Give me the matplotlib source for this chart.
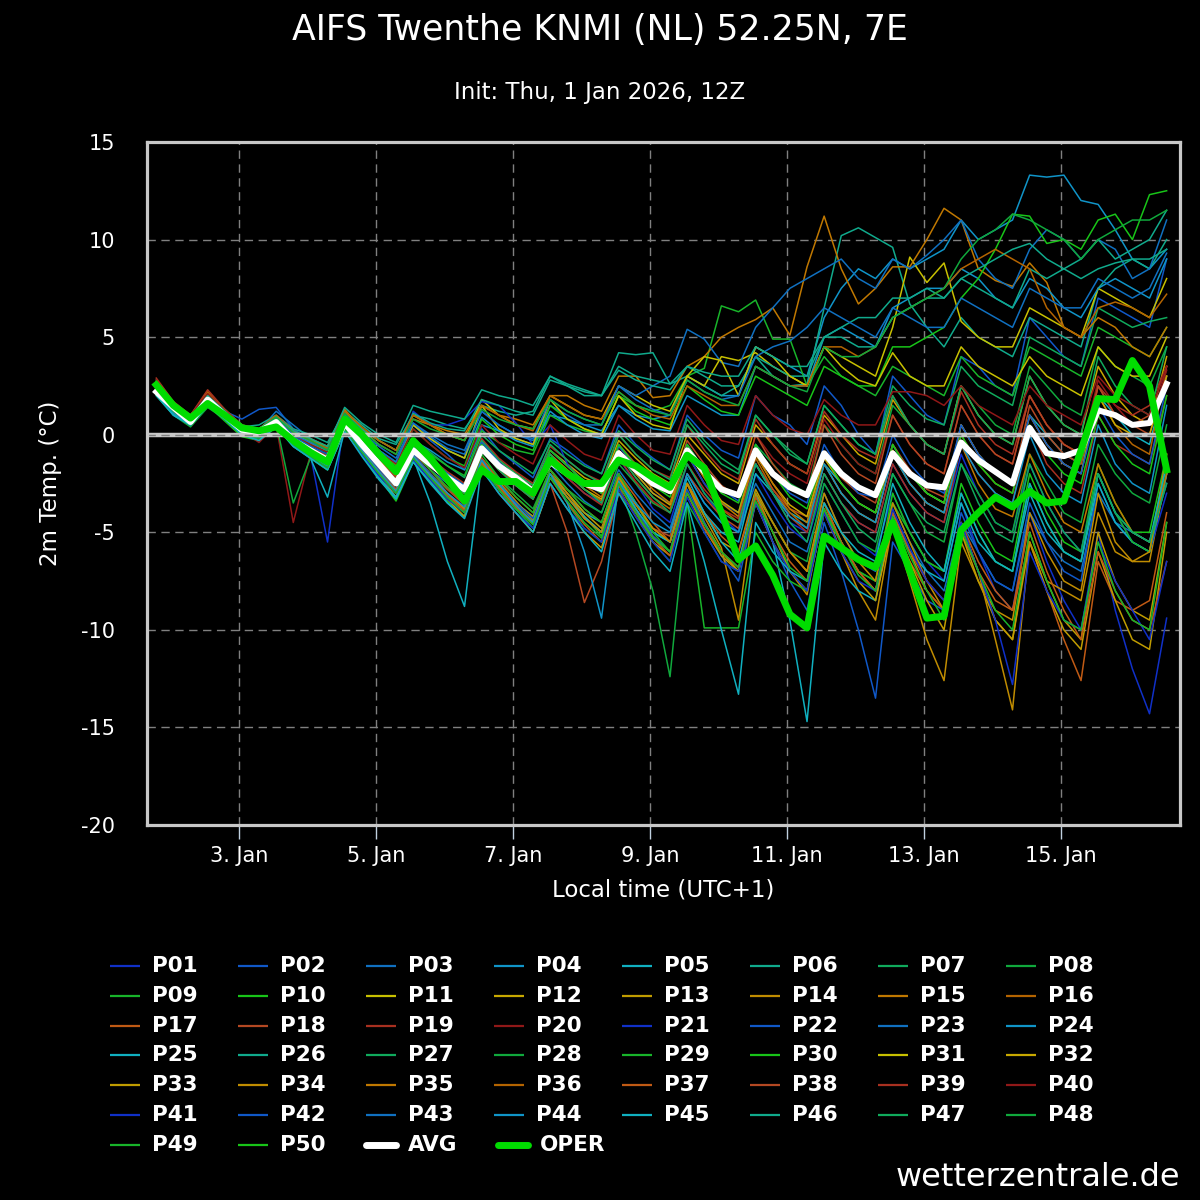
import matplotlib
matplotlib.use("Agg")
import matplotlib.pyplot as plt
import matplotlib.dates as mdates
from matplotlib.lines import Line2D
import pandas as pd

plt.rcParams["axes.unicode_minus"] = False

title = "AIFS Twenthe KNMI (NL) 52.25N, 7E"
subtitle = "Init: Thu, 1 Jan 2026, 12Z"
xlabel = "Local time (UTC+1)"
ylabel = "2m Temp. (°C)"
credit = "wetterzentrale.de"

# 6-hourly steps in local time (UTC+1), +6h .. +360h after init
times = pd.date_range("2026-01-01 19:00", periods=60, freq="6h")
tick_days = pd.date_range("2026-01-03", "2026-01-15", freq="2D")

avg = [2.2, 1.4, 0.65, 1.8, 1.0, 0.25, 0.15, 0.65, -0.3, -0.8, -1.3, 0.6,
       -0.5, -1.5, -2.5, -0.8, -1.5, -2.2, -2.8, -0.7, -1.6, -2.2, -2.9, -1.4,
       -2.0, -2.5, -2.8, -0.95, -1.8, -2.5, -2.9, -0.8, -1.9, -2.8, -3.1, -0.8,
       -2.0, -2.7, -3.1, -0.95, -2.0, -2.7, -3.1, -0.95, -2.0, -2.6, -2.7, -0.4,
       -1.3, -1.9, -2.5, 0.35, -0.95, -1.1, -0.8, 1.25, 1.0, 0.5, 0.6, 2.6]

oper = [2.55, 1.5, 0.85, 1.6, 1.0, 0.35, 0.2, 0.4, -0.3, -0.9, -1.4, 0.8,
        0.0, -1.0, -1.9, -0.3, -1.2, -2.3, -3.4, -1.8, -2.4, -2.4, -3.0, -1.3,
        -2.0, -2.5, -2.5, -1.3, -1.6, -2.2, -2.7, -1.05, -1.7, -4.0, -6.4, -5.7,
        -7.2, -9.2, -9.9, -5.2, -5.8, -6.4, -6.8, -4.5, -7.0, -9.4, -9.3, -4.9,
        -4.0, -3.2, -3.7, -2.9, -3.5, -3.4, -0.8, 1.85, 1.8, 3.8, 2.5, -1.8]

p01 = [2.4, 1.4, 0.8, 1.9, 1.1, 0.2, 0.0, 0.8, -0.2, -0.6, -1.2, 0.8,
       -0.4, -1.3, -2.2, -0.5, -1.2, -2.0, -2.6, -0.3, -1.4, -2.3, -3.1, -1.0,
       -2.2, -3.0, -3.5, -1.2, -2.5, -3.8, -4.5, -1.5, -3.0, -4.2, -5.0, -2.0,
       -3.5, -4.8, -5.5, -2.5, -4.0, -5.5, -6.2, -3.0, -5.0, -6.5, -7.5, -3.5,
       -6.0, -8.0, -9.0, -4.0, -6.5, -8.5, -10.0, -5.0, -9.0, -12.0, -14.3, -9.4]
p02 = [2.6, 1.5, 0.9, 2.0, 1.2, 0.8, 1.3, 1.4, 0.3, -0.3, -0.8, 1.0,
       0.2, -0.8, -1.5, 0.5, -0.3, -1.0, -1.8, 0.3, -0.8, -1.5, -2.2, -0.2,
       -0.8, -1.5, -2.0, 0.5, -0.5, -1.2, -1.8, 1.0, 0.0, -0.8, -1.2, 2.0,
       1.0, 0.5, -0.5, 2.5, 1.5, 0.0, -1.0, 3.0, 2.0, 1.0, 0.5, 4.0,
       3.5, 2.5, 2.0, 6.0, 5.0, 4.0, 3.5, 7.0, 6.5, 6.0, 5.5, 9.0]
p03 = [2.3, 1.2, 0.6, 1.7, 0.9, 0.1, 0.2, 1.2, 0.5, -0.2, -0.8, 0.9,
       -0.3, -1.5, -2.3, -0.8, -1.8, -2.5, -3.0, -0.6, -1.8, -2.6, -3.2, -1.5,
       -2.5, -3.4, -4.0, -1.8, -3.0, -4.0, -4.8, -2.0, -3.5, -4.5, -5.0, -2.5,
       -4.0, -5.5, -6.0, -3.0, -5.0, -6.5, -7.0, -3.5, -5.5, -7.0, -8.0, -4.5,
       -6.0, -7.5, -8.0, -4.0, -5.5, -6.5, -7.0, -3.0, -4.5, -5.0, -5.5, -2.5]
p04 = [2.5, 1.3, 0.7, 1.8, 1.0, 0.3, 0.2, 0.7, -0.2, -0.7, -1.2, 0.5,
       -0.4, -1.2, -2.0, -0.3, -0.8, -1.4, -1.8, 0.5, 0.2, -0.2, -0.5, 1.0,
       0.8, 0.5, 0.2, 1.5, 1.0, 0.8, 1.0, 3.0, 2.5, 2.0, 2.0, 4.5,
       4.0, 3.5, 3.0, 6.0, 7.5, 8.5, 8.0, 9.0, 8.5, 9.0, 9.5, 11.0,
       10.0, 10.5, 11.0, 13.3, 13.2, 13.3, 12.0, 11.8, 10.5, 9.0, 8.5, 9.5]
p05 = [2.2, 1.1, 0.5, 1.6, 0.8, 0.0, -0.2, 0.5, -0.5, -1.2, -1.8, 0.2,
       -1.0, -2.2, -3.2, -1.2, -3.5, -6.5, -8.8, -1.5, -2.5, -3.5, -4.2, -2.0,
       -3.0, -4.0, -4.5, -2.0, -3.5, -5.0, -5.5, -2.5, -4.0, -5.0, -5.5, -2.0,
       -3.0, -4.0, -4.5, -1.5, -2.5, -3.5, -4.0, -0.5, -2.0, -3.0, -3.5, 0.5,
       -1.0, -2.0, -2.5, 1.0, 0.0, -1.0, -1.5, 2.0, 1.0, 0.0, -0.5, 3.0]
p06 = [2.4, 1.2, 0.6, 1.7, 1.0, 0.4, 0.5, 1.0, 0.3, 0.0, -0.4, 1.2,
       0.5, -0.2, -0.5, 1.0, 0.8, 0.5, 0.3, 1.5, 1.2, 1.0, 1.2, 3.0,
       2.5, 2.0, 2.0, 4.2, 4.1, 4.2, 2.6, 3.0, 2.5, 2.0, 2.5, 4.0,
       3.0, 2.5, 2.6, 6.5, 10.2, 10.6, 10.1, 9.6, 6.7, 5.5, 4.5, 6.0,
       5.0, 4.5, 4.0, 6.0, 5.5, 5.0, 4.5, 7.5, 8.5, 9.0, 8.5, 10.0]
p07 = [2.8, 1.6, 0.9, 2.1, 1.3, 0.5, 0.3, 0.8, 0.1, -0.4, -0.9, 1.0,
       -0.2, -1.0, -1.8, -0.2, -0.9, -1.6, -2.2, 0.0, -0.8, -1.4, -2.0, -0.3,
       -1.0, -1.6, -2.0, 0.2, -0.6, -1.3, -1.8, 0.8, -0.3, -1.2, -1.8, 1.0,
       0.0, -0.8, -1.5, 1.5, 0.5, -0.5, -1.0, 2.5, 1.5, 0.8, 0.5, 3.5,
       2.5, 2.0, 1.5, 5.0, 4.5, 4.0, 3.5, 6.5, 6.0, 5.5, 5.8, 6.0]
p08 = [2.0, 1.0, 0.4, 1.4, 0.8, 0.1, -0.1, 0.6, -0.5, -1.0, -1.5, 0.4,
       -0.8, -1.8, -2.8, -1.0, -2.0, -2.8, -3.5, -1.2, -2.2, -3.0, -3.8, -1.8,
       -2.8, -3.5, -4.0, -1.5, -2.5, -3.5, -4.0, -1.0, -2.5, -3.5, -4.0, -0.5,
       -1.5, -2.5, -3.0, 0.5, -0.5, -1.5, -2.0, 1.5, 0.5, -0.5, -1.0, 2.5,
       1.5, 0.5, 0.0, 3.5, 2.5, 1.5, 1.0, 4.5, 3.5, 3.0, 2.5, 4.5]
p09 = [2.6, 1.4, 0.7, 1.9, 1.1, 0.3, 0.2, 0.9, 0.0, -0.6, -1.1, 0.7,
       -0.2, -1.2, -2.0, -0.4, -1.0, -1.6, -2.1, 0.2, -0.4, -0.8, -1.0, 1.0,
       0.5, 0.2, 0.0, 2.0, 1.5, 1.2, 1.5, 3.0, 3.4, 6.6, 6.3, 6.9,
       4.9, 4.9, 2.5, 4.0, 3.0, 2.5, 2.0, 3.5, 3.0, 2.5, 2.0, 4.0,
       3.0, 2.5, 2.0, 4.5, 4.0, 3.5, 3.0, 5.5, 5.0, 4.5, 4.0, 5.5]
p10 = [2.1, 1.1, 0.5, 1.5, 0.7, -0.1, -0.3, 0.4, -0.6, -1.2, -1.8, 0.2,
       -1.0, -2.2, -3.4, -1.4, -2.4, -3.4, -4.2, -1.5, -2.8, -3.8, -4.8, -2.2,
       -3.2, -4.2, -5.2, -2.2, -4.0, -5.5, -6.5, -2.5, -4.5, -6.0, -7.0, -3.0,
       -5.0, -7.0, -8.0, -3.5, -5.5, -7.0, -7.5, -3.0, -5.0, -6.5, -7.0, -2.5,
       -4.5, -6.0, -6.5, -2.0, -4.0, -5.5, -6.0, -1.5, -3.5, -5.0, -5.0, -1.0]
p11 = [2.3, 1.3, 0.7, 1.8, 1.0, 0.4, 0.3, 0.9, 0.1, -0.3, -0.6, 1.2,
       0.3, -0.3, -0.8, 1.0, 0.5, 0.0, -0.3, 1.8, 1.0, 0.5, 0.3, 2.0,
       1.5, 1.0, 0.8, 2.5, 2.0, 1.5, 1.2, 3.0, 2.5, 4.0, 3.8, 4.2,
       3.5, 3.0, 2.5, 4.5, 4.0, 3.5, 3.0, 5.5, 9.1, 7.8, 8.8, 5.8,
       5.0, 4.5, 4.5, 6.5, 6.0, 5.5, 5.0, 7.5, 7.0, 6.5, 6.0, 8.0]
p12 = [2.5, 1.5, 0.8, 2.0, 1.1, 0.3, 0.1, 0.6, -0.3, -0.8, -1.3, 0.6,
       -0.5, -1.4, -2.2, -0.5, -1.3, -2.0, -2.6, -0.4, -1.3, -2.0, -2.6, -0.8,
       -1.5, -2.2, -2.6, -0.3, -1.2, -2.0, -2.5, 0.0, -1.0, -2.0, -2.5, 0.5,
       -0.5, -1.5, -2.0, 1.0, 0.0, -1.0, -1.5, 1.8, 0.5, -0.5, -1.0, 2.5,
       1.0, 0.0, -0.5, 3.0, 1.5, 0.5, 0.0, 3.5, 2.0, 1.0, 0.5, 4.0]
p13 = [2.2, 1.2, 0.6, 1.6, 0.9, 0.1, 0.0, 0.6, -0.4, -1.0, -1.6, 0.4,
       -0.8, -2.0, -3.2, -1.2, -2.2, -3.2, -4.0, -1.5, -2.6, -3.5, -4.2, -2.0,
       -3.0, -4.0, -4.8, -2.2, -3.5, -4.8, -5.5, -2.5, -4.0, -5.5, -6.0, -2.8,
       -4.5, -6.0, -7.0, -3.5, -5.5, -7.0, -8.0, -4.0, -6.0, -8.0, -9.0, -4.5,
       -7.0, -9.5, -10.5, -5.0, -7.5, -9.5, -10.5, -5.0, -7.5, -9.0, -9.5, -4.5]
p14 = [2.7, 1.5, 0.8, 2.0, 1.1, 0.3, 0.1, 0.7, -0.3, -0.9, -1.5, 0.5,
       -0.7, -1.8, -2.9, -1.0, -2.0, -3.0, -3.8, -1.2, -2.4, -3.4, -4.4, -1.8,
       -3.0, -4.2, -5.0, -2.0, -3.8, -5.2, -6.0, -2.5, -4.5, -6.0, -7.0, -3.0,
       -5.0, -7.0, -8.2, -3.8, -6.0, -8.0, -9.5, -4.5, -7.5, -10.5, -12.6, -5.5,
       -7.5, -9.0, -9.5, -4.0, -6.0, -7.5, -8.0, -3.0, -5.5, -6.5, -6.5, -2.0]
p15 = [2.4, 1.3, 0.7, 1.9, 1.1, 0.4, 0.3, 0.9, 0.2, -0.2, -0.6, 1.3,
       0.3, -0.5, -1.0, 0.8, 0.5, 0.2, 0.0, 1.5, 1.0, 0.8, 0.5, 2.0,
       2.0, 1.5, 1.2, 3.0, 3.0, 1.9, 2.0, 3.5, 4.0, 5.0, 5.5, 5.9,
       6.5, 5.1, 8.6, 11.2, 8.5, 6.7, 7.5, 8.6, 8.6, 10.0, 11.6, 11.0,
       8.5, 7.9, 7.6, 8.8, 7.8, 5.5, 5.0, 6.0, 5.5, 4.5, 4.0, 5.5]
p16 = [2.6, 1.6, 1.0, 2.2, 1.2, 0.4, 0.2, 0.7, -0.2, -0.7, -1.2, 0.7,
       -0.4, -1.3, -2.1, -0.5, -1.4, -2.2, -2.9, -0.6, -1.6, -2.4, -3.2, -1.2,
       -2.0, -2.8, -3.4, -1.0, -2.2, -3.2, -3.8, -1.0, -2.5, -3.8, -4.5, -1.2,
       -2.8, -4.0, -4.8, -1.5, -3.0, -4.0, -4.5, -1.0, -2.5, -3.5, -4.0, 0.0,
       -1.5, -2.5, -3.0, 1.0, -0.5, -1.5, -2.0, 2.0, 0.5, -0.5, -1.0, 3.5]
p17 = [2.3, 1.3, 0.7, 1.7, 1.0, 0.2, 0.0, 0.6, -0.4, -0.9, -1.5, 0.4,
       -0.7, -1.7, -2.6, -0.9, -1.8, -2.7, -3.5, -1.2, -2.3, -3.2, -4.0, -1.8,
       -2.8, -3.8, -4.5, -2.0, -3.2, -4.5, -5.5, -2.5, -4.0, -5.2, -6.0, -3.0,
       -4.5, -6.0, -7.0, -3.8, -5.5, -7.0, -8.0, -4.5, -6.5, -8.0, -9.0, -5.0,
       -7.0, -8.5, -9.0, -5.5, -8.0, -10.5, -12.6, -6.5, -8.5, -9.0, -8.5, -4.0]
p18 = [2.5, 1.4, 0.8, 2.0, 1.1, 0.3, 0.2, 0.8, -0.2, -0.8, -1.3, 0.6,
       -0.6, -1.6, -2.5, -0.8, -1.8, -2.8, -3.6, -1.2, -2.8, -4.0, -5.0, -2.5,
       -5.0, -8.6, -6.5, -3.0, -4.0, -4.8, -5.2, -2.0, -3.2, -4.2, -4.8, -1.5,
       -2.8, -3.8, -4.2, -1.0, -2.2, -3.0, -3.5, -0.5, -1.8, -2.8, -3.2, 0.5,
       -1.0, -2.0, -2.5, 1.5, 0.0, -1.0, -1.5, 2.5, 1.0, 0.5, 0.0, 3.0]
p19 = [2.9, 1.7, 1.0, 2.3, 1.3, 0.5, 0.3, 0.8, -0.1, -0.6, -1.1, 0.8,
       -0.3, -1.2, -2.0, -0.4, -1.2, -1.9, -2.5, -0.2, -1.2, -1.9, -2.5, -0.6,
       -1.3, -2.0, -2.4, 0.0, -1.0, -1.8, -2.2, 0.5, -0.8, -1.8, -2.3, 0.8,
       -0.5, -1.5, -2.0, 1.2, 0.0, -0.8, -1.2, 2.0, 0.5, -0.5, -1.0, 2.2,
       0.5, -0.5, -1.0, 2.0, 0.5, -0.5, -1.0, 2.5, 1.5, 1.0, 1.5, 3.5]
p20 = [2.7, 1.5, 0.5, 1.8, 1.0, 0.2, -0.4, 0.5, -4.5, -1.0, -1.6, 0.5,
       -0.5, -1.5, -2.3, -0.6, -1.5, -2.3, -2.9, -0.5, -1.5, -2.2, -2.8, -1.0,
       -1.8, -2.5, -3.0, -0.8, -1.8, -2.6, -3.0, -0.5, -1.8, -2.8, -3.2, 0.0,
       -1.2, -2.0, -2.5, 0.8, -0.5, -1.5, -2.0, 1.0, -0.5, -1.5, -2.0, 1.5,
       0.0, -1.0, -1.5, 2.0, 0.5, -0.5, -1.0, 2.8, 1.5, 0.5, 0.5, 3.3]
p21 = [2.4, 1.3, 0.7, 1.8, 1.0, 0.3, 0.1, 0.6, -0.3, -1.0, -5.5, 0.9,
       -0.5, -1.0, -1.8, 1.2, 0.5, 0.5, 0.8, 1.7, 1.5, 0.6, -0.5, 0.5,
       -1.5, -2.5, -3.0, -0.8, -2.0, -3.0, -3.5, -1.0, -2.5, -3.5, -4.0, -1.5,
       -3.0, -4.5, -5.0, -2.0, -3.5, -4.5, -5.0, -1.5, -3.0, -4.0, -4.5, -1.0,
       -3.0, -4.5, -5.0, -1.5, -3.5, -5.0, -6.0, -2.0, -4.0, -5.5, -6.0, -3.0]
p22 = [2.3, 1.2, 0.6, 1.7, 0.9, 0.2, 0.1, 0.7, -0.3, -0.9, -1.4, 0.5,
       -0.7, -1.8, -2.8, -1.0, -2.0, -3.0, -3.8, -1.3, -2.5, -3.5, -4.3, -2.0,
       -3.2, -4.3, -5.0, -2.3, -3.8, -5.2, -6.0, -2.8, -4.5, -6.2, -7.5, -3.5,
       -5.5, -7.5, -9.0, -4.5, -7.0, -10.0, -13.5, -5.5, -7.0, -8.5, -9.0, -4.0,
       -6.0, -7.5, -8.0, -3.5, -5.5, -7.0, -7.5, -2.5, -4.5, -5.5, -6.0, -2.0]
p23 = [2.5, 1.4, 0.8, 1.9, 1.1, 0.3, 0.2, 0.8, -0.1, -0.5, -0.9, 0.9,
       0.1, -0.6, -1.2, 0.6, 0.0, -0.5, -0.8, 1.2, 0.5, 0.0, -0.3, 1.5,
       1.0, 0.5, 0.5, 2.5, 2.0, 2.5, 3.0, 5.4, 4.9, 3.7, 3.5, 5.5,
       6.5, 7.5, 8.0, 8.5, 9.0, 8.0, 7.5, 9.0, 8.5, 9.2, 10.0, 11.0,
       9.0, 8.0, 7.5, 9.5, 10.5, 10.0, 9.0, 10.0, 9.5, 8.0, 8.5, 11.0]
p24 = [2.6, 1.5, 0.8, 2.0, 1.2, 0.4, 0.3, 0.9, 0.0, -0.4, -0.9, 0.9,
       0.0, -0.8, -1.4, 0.5, -0.2, -0.8, -1.2, 0.9, 0.2, -0.3, -0.6, 1.2,
       0.5, 0.0, -0.2, 1.5, 0.8, 0.3, 0.2, 2.0, 1.5, 1.0, 1.0, 3.5,
       3.0, 2.5, 2.5, 5.0, 5.5, 5.0, 4.5, 6.5, 7.0, 7.5, 7.5, 8.5,
       8.0, 7.0, 6.5, 8.0, 7.5, 6.5, 6.0, 7.5, 8.0, 7.5, 7.0, 9.0]
p25 = [2.1, 1.0, 0.5, 1.5, 0.8, 0.0, -0.2, 0.5, -0.6, -1.2, -3.2, 0.2,
       -1.0, -2.2, -3.2, -1.4, -2.4, -3.5, -4.2, -1.6, -2.8, -3.8, -4.5, -2.2,
       -3.2, -4.2, -5.0, -2.4, -3.8, -5.0, -5.5, -2.2, -4.0, -5.5, -6.5, -3.0,
       -5.5, -9.5, -14.7, -5.5, -7.0, -8.0, -8.5, -4.0, -6.0, -7.0, -7.5, -3.5,
       -5.5, -6.5, -7.0, -3.0, -5.0, -6.0, -6.5, -2.5, -4.5, -5.5, -6.0, -2.0]
p26 = [2.4, 1.3, 0.7, 1.8, 1.0, 0.3, 0.3, 0.9, 0.1, -0.3, -0.7, 1.1,
       0.3, -0.3, -0.8, 1.1, 0.6, 0.3, 0.2, 1.8, 1.5, 1.2, 1.0, 2.8,
       2.5, 2.2, 2.0, 3.5, 3.0, 2.8, 2.6, 3.5, 3.0, 2.5, 2.5, 4.0,
       3.5, 3.0, 3.0, 5.0, 5.5, 6.0, 6.0, 7.0, 7.0, 7.5, 7.0, 8.0,
       7.5, 7.0, 6.5, 8.5, 8.0, 8.5, 9.0, 10.0, 9.0, 9.5, 10.0, 11.5]
p27 = [2.7, 1.5, 0.8, 1.9, 1.1, 0.3, 0.2, 0.8, -0.2, -0.7, -1.2, 0.8,
       -0.3, -1.2, -2.0, -0.3, -1.2, -2.0, -2.6, -0.3, -1.3, -2.0, -2.6, -0.5,
       -1.3, -2.0, -2.5, 0.0, -1.0, -1.8, -2.3, 0.5, -0.5, -1.5, -2.0, 1.0,
       0.0, -1.0, -1.5, 1.5, 0.5, -0.5, -1.0, 2.0, 0.5, -0.5, -1.0, 2.5,
       1.0, 0.0, -0.5, 3.0, 1.5, 0.5, 0.0, 4.0, 2.5, 1.5, 1.0, 4.5]
p28 = [2.2, 1.1, 0.5, 1.6, 0.8, 0.0, -0.2, 0.6, -3.5, -1.2, -1.6, 0.4,
       -0.9, -2.0, -3.0, -1.2, -2.2, -3.2, -4.0, -1.5, -2.8, -3.8, -4.8, -2.0,
       -3.5, -4.8, -5.5, -2.5, -5.0, -8.0, -12.4, -3.5, -5.0, -6.5, -7.0, -3.0,
       -4.5, -6.0, -6.5, -2.5, -4.0, -5.5, -6.0, -2.0, -3.5, -5.0, -5.5, -1.5,
       -3.0, -4.5, -5.0, -1.0, -2.5, -4.0, -4.5, -0.5, -2.0, -3.0, -3.5, 0.5]
p29 = [2.5, 1.3, 0.7, 1.8, 1.0, 0.2, 0.1, 0.7, -0.3, -0.9, -1.4, 0.6,
       -0.6, -1.6, -2.5, -0.8, -1.8, -2.7, -3.4, -1.0, -2.2, -3.2, -4.0, -1.8,
       -2.8, -3.8, -4.5, -2.0, -3.5, -5.0, -6.0, -3.5, -9.9, -9.9, -9.9, -5.0,
       -6.5, -7.5, -8.0, -4.0, -5.5, -7.0, -7.5, -3.5, -5.0, -6.5, -7.0, -3.0,
       -5.0, -6.5, -7.0, -2.5, -4.5, -6.0, -6.5, -2.0, -4.0, -5.5, -6.0, -1.5]
p30 = [2.6, 1.5, 0.8, 2.0, 1.1, 0.4, 0.3, 0.9, 0.0, -0.5, -0.9, 0.9,
       0.0, -0.9, -1.6, 0.3, -0.5, -1.2, -1.6, 0.8, 0.0, -0.5, -0.8, 1.5,
       0.8, 0.3, 0.0, 2.0, 1.2, 0.8, 0.5, 2.5, 1.8, 1.2, 1.0, 3.0,
       2.5, 2.0, 1.5, 3.5, 3.0, 2.5, 2.5, 4.5, 4.5, 5.0, 5.5, 7.0,
       8.0, 9.5, 11.3, 11.2, 9.8, 10.0, 9.5, 11.0, 11.3, 10.0, 12.3, 12.5]
p31 = [2.3, 1.2, 0.7, 1.8, 1.0, 0.3, 0.2, 0.8, 0.0, -0.4, -0.8, 1.0,
       0.0, -0.8, -1.5, 0.5, -0.2, -0.8, -1.2, 1.5, 0.3, -0.2, -0.5, 1.8,
       0.8, 0.3, 0.0, 2.0, 1.0, 0.5, 0.3, 3.0, 4.0, 3.8, 2.0, 4.5,
       4.0, 3.0, 2.5, 4.5, 3.5, 2.8, 2.5, 4.2, 3.0, 2.5, 2.5, 4.5,
       3.5, 3.0, 2.5, 4.0, 3.0, 2.5, 2.0, 4.5, 3.5, 3.0, 3.0, 5.0]
p32 = [2.4, 1.4, 0.8, 1.8, 1.0, 0.2, 0.1, 0.7, -0.3, -0.8, -1.3, 0.6,
       -0.5, -1.5, -2.4, -0.7, -1.6, -2.4, -3.0, -0.8, -1.8, -2.6, -3.3, -1.2,
       -2.0, -2.8, -3.3, -0.8, -2.0, -3.0, -3.6, -0.8, -2.2, -3.4, -4.0, -1.0,
       -2.5, -3.6, -4.2, -1.2, -2.5, -3.5, -4.0, -0.8, -2.0, -3.0, -3.5, 0.5,
       -1.0, -2.0, -2.5, 1.0, -0.5, -1.5, -2.0, 2.0, 0.5, 0.0, 0.0, 3.0]
p33 = [2.5, 1.5, 0.9, 1.9, 1.0, 0.1, -0.1, 0.5, -0.5, -1.1, -1.7, 0.3,
       -0.9, -2.0, -3.0, -1.2, -2.3, -3.3, -4.2, -1.7, -3.0, -4.0, -5.0, -2.5,
       -3.8, -5.0, -5.8, -2.8, -4.2, -5.5, -6.2, -3.0, -4.8, -6.2, -7.0, -3.5,
       -5.5, -7.0, -8.0, -4.0, -6.0, -7.5, -8.5, -4.5, -6.5, -8.5, -10.0, -5.0,
       -7.5, -9.5, -10.5, -5.5, -8.0, -10.0, -11.0, -6.0, -8.5, -10.5, -11.0, -5.0]
p34 = [2.6, 1.4, 0.7, 1.9, 1.0, 0.2, 0.0, 0.6, -0.4, -1.0, -1.6, 0.4,
       -0.8, -1.9, -2.9, -1.1, -2.1, -3.0, -3.8, -1.4, -2.6, -3.6, -4.5, -2.0,
       -3.2, -4.3, -5.0, -2.2, -3.6, -4.8, -5.5, -2.5, -4.2, -5.8, -9.5, -3.0,
       -4.5, -6.0, -7.0, -3.0, -5.0, -6.5, -7.5, -3.5, -5.5, -7.5, -9.0, -4.5,
       -7.0, -10.5, -14.1, -5.5, -7.5, -8.0, -8.5, -4.0, -6.0, -6.5, -6.0, -1.0]
p35 = [2.3, 1.3, 0.8, 1.9, 1.1, 0.3, 0.2, 0.8, -0.2, -0.7, -1.2, 0.7,
       -0.4, -1.4, -2.3, -0.6, -1.5, -2.3, -3.0, -0.7, -1.7, -2.5, -3.2, -1.0,
       -1.8, -2.6, -3.2, -0.5, -1.8, -2.8, -3.5, -0.8, -2.2, -3.5, -4.2, -1.0,
       -2.5, -3.8, -4.5, -1.5, -3.0, -4.0, -4.5, -1.0, -2.5, -3.5, -4.0, -0.5,
       -2.5, -3.8, -4.2, -1.0, -3.0, -4.5, -5.0, -1.5, -3.5, -5.0, -5.5, -2.0]
p36 = [2.5, 1.4, 0.8, 2.0, 1.2, 0.4, 0.3, 1.0, 0.2, -0.3, -0.7, 1.2,
       0.4, -0.3, -0.8, 1.0, 0.5, 0.0, -0.3, 1.5, 1.0, 0.5, 0.2, 2.0,
       1.5, 1.0, 0.8, 2.2, 1.5, 1.0, 0.8, 2.5, 2.0, 1.5, 1.5, 3.5,
       3.0, 2.5, 2.5, 4.5, 4.5, 4.0, 4.5, 6.0, 6.5, 7.0, 7.5, 8.5,
       9.0, 9.5, 9.0, 8.5, 6.5, 5.5, 5.0, 6.5, 6.8, 6.5, 6.0, 7.2]
p37 = [2.4, 1.3, 0.7, 1.8, 1.0, 0.2, 0.0, 0.6, -0.4, -1.0, -1.5, 0.4,
       -0.8, -1.9, -2.8, -1.1, -2.1, -3.1, -3.9, -1.5, -2.7, -3.7, -4.6, -2.2,
       -3.5, -4.6, -5.5, -2.6, -4.0, -5.3, -6.2, -3.0, -4.8, -6.0, -6.8, -3.2,
       -5.0, -6.5, -7.5, -3.5, -5.5, -7.0, -8.0, -4.0, -6.0, -7.5, -8.5, -4.5,
       -6.5, -8.0, -9.0, -4.5, -7.0, -9.0, -10.5, -6.0, -8.0, -9.5, -10.0, -6.5]
p38 = [2.6, 1.5, 0.9, 2.0, 1.1, 0.3, 0.1, 0.7, -0.2, -0.7, -1.2, 0.7,
       -0.3, -1.2, -2.0, -0.4, -1.3, -2.1, -2.8, -0.5, -1.5, -2.3, -3.0, -0.8,
       -1.6, -2.4, -3.0, -0.5, -1.5, -2.4, -3.0, -0.3, -1.5, -2.6, -3.2, 0.0,
       -1.5, -2.6, -3.2, 0.5, -1.0, -2.0, -2.5, 1.0, -0.5, -1.5, -2.0, 1.5,
       0.0, -1.0, -1.5, 2.0, 0.5, -0.5, -1.0, 2.5, 1.0, 0.5, 1.0, 3.5]
p39 = [2.2, 1.2, 0.6, 1.7, 1.0, 0.2, 0.1, 0.7, -0.2, -0.8, -1.3, 0.7,
       -0.4, -1.4, -2.2, -0.6, -1.5, -2.3, -3.0, -0.8, -1.8, -2.6, -3.3, -1.2,
       -2.2, -3.0, -3.6, -1.2, -2.4, -3.4, -4.0, -1.5, -2.8, -3.8, -4.3, -1.5,
       -3.0, -4.2, -5.0, -2.0, -3.5, -4.5, -5.0, -1.5, -3.0, -4.0, -4.5, -0.5,
       -2.0, -3.0, -3.5, 0.5, -1.5, -2.5, -3.0, 1.0, -0.5, -1.0, -1.5, 2.0]
p40 = [2.8, 1.6, 1.0, 2.1, 1.2, 0.4, 0.2, 0.8, 0.0, -0.5, -0.9, 0.9,
       0.0, -0.8, -1.5, 0.3, -0.5, -1.2, -1.7, 0.5, -0.4, -1.0, -1.5, 0.5,
       -0.3, -1.0, -1.3, 1.0, 0.0, -0.8, -1.0, 1.5, 0.5, -0.3, -0.5, 2.0,
       1.0, 0.3, 0.0, 1.8, 1.0, 0.5, 0.5, 2.2, 2.2, 2.0, 1.5, 2.5,
       1.5, 1.0, 0.5, 2.5, 1.5, 1.0, 0.5, 3.0, 2.0, 1.5, 1.0, 3.5]
p41 = [2.3, 1.2, 0.6, 1.6, 0.9, 0.1, -0.1, 0.5, -0.5, -1.1, -1.7, 0.3,
       -1.0, -2.1, -3.0, -1.3, -2.3, -3.3, -4.0, -1.7, -3.0, -4.0, -4.8, -2.5,
       -3.8, -4.8, -5.5, -2.8, -4.2, -5.5, -6.5, -3.2, -5.0, -6.5, -7.0, -3.5,
       -5.5, -7.0, -8.0, -4.0, -6.0, -7.5, -8.0, -3.8, -5.8, -7.5, -8.5, -4.5,
       -7.0, -9.5, -12.8, -6.0, -8.0, -9.5, -10.0, -5.5, -7.5, -9.0, -10.5, -6.5]
p42 = [2.5, 1.4, 0.8, 1.9, 1.1, 0.3, 0.2, 0.8, -0.1, -0.6, -1.0, 0.9,
       -0.2, -1.1, -1.9, -0.3, -1.2, -2.0, -2.6, -0.4, -1.4, -2.2, -2.8, -0.8,
       -1.6, -2.4, -2.9, -0.6, -1.6, -2.5, -3.0, -0.5, -1.8, -2.8, -3.4, -0.5,
       -2.0, -3.0, -3.5, -0.5, -2.0, -3.0, -3.2, 0.0, -1.5, -2.5, -3.0, 0.5,
       -1.0, -2.0, -2.5, 1.0, -0.5, -1.5, -2.0, 1.5, 0.0, -1.0, -1.5, 2.5]
p43 = [2.4, 1.3, 0.7, 1.8, 1.0, 0.3, 0.2, 0.8, 0.0, -0.4, -0.8, 1.0,
       0.0, -0.8, -1.4, 0.6, -0.1, -0.7, -1.0, 1.2, 0.5, 0.0, -0.2, 1.8,
       1.2, 0.8, 0.5, 2.5, 1.8, 1.3, 1.0, 2.8, 2.2, 1.8, 2.0, 4.0,
       4.5, 4.8, 5.5, 6.5, 6.0, 5.5, 5.0, 6.5, 6.0, 5.5, 5.5, 7.0,
       6.5, 6.0, 5.5, 7.5, 7.0, 6.5, 6.5, 8.0, 7.5, 7.0, 7.5, 9.3]
p44 = [2.2, 1.1, 0.5, 1.6, 0.8, 0.1, -0.1, 0.5, -0.5, -1.1, -1.6, 0.4,
       -0.8, -1.9, -2.9, -1.1, -2.1, -3.0, -3.7, -1.3, -2.5, -3.6, -4.5, -2.0,
       -3.5, -6.0, -9.4, -2.5, -3.5, -4.5, -5.0, -2.0, -3.5, -4.5, -5.0, -1.5,
       -3.0, -4.2, -4.8, -1.5, -3.0, -4.0, -4.5, -1.0, -2.5, -3.5, -4.0, -0.5,
       -2.0, -3.0, -3.5, 0.0, -2.0, -3.0, -3.5, 0.5, -1.5, -2.5, -3.0, 1.5]
p45 = [2.0, 1.0, 0.5, 1.5, 0.8, 0.0, -0.3, 0.4, -0.6, -1.2, -1.8, 0.2,
       -1.1, -2.3, -3.3, -1.4, -2.5, -3.5, -4.3, -1.8, -3.0, -4.0, -5.0, -2.5,
       -3.8, -5.0, -6.0, -3.0, -4.5, -6.0, -7.0, -3.5, -6.5, -10.0, -13.3, -4.5,
       -6.0, -7.0, -7.5, -3.5, -5.0, -6.0, -6.5, -2.5, -4.5, -6.0, -7.0, -3.0,
       -5.0, -6.5, -7.0, -2.5, -4.5, -6.0, -6.5, -2.0, -4.0, -5.0, -5.5, -1.5]
p46 = [2.7, 1.6, 0.9, 2.0, 1.2, 0.4, 0.3, 0.9, 0.2, -0.2, -0.6, 1.4,
       0.6, 0.0, -0.4, 1.5, 1.2, 1.0, 0.8, 2.3, 2.0, 1.8, 1.5, 3.0,
       2.6, 2.3, 2.0, 3.3, 2.8, 2.5, 2.3, 3.5, 3.2, 3.0, 3.0, 4.5,
       4.0, 3.5, 3.5, 5.0, 5.0, 4.5, 4.5, 6.0, 6.5, 7.0, 7.0, 8.0,
       8.5, 9.0, 9.5, 9.8, 9.0, 8.5, 8.0, 8.5, 8.8, 9.0, 9.0, 9.5]
p47 = [2.4, 1.3, 0.7, 1.8, 1.0, 0.2, 0.1, 0.7, -0.3, -0.8, -1.3, 0.6,
       -0.5, -1.5, -2.3, -0.6, -1.5, -2.3, -3.0, -0.8, -1.8, -2.6, -3.3, -1.0,
       -2.0, -2.8, -3.5, -1.0, -2.2, -3.2, -4.0, -1.5, -3.0, -4.0, -4.5, -1.5,
       -3.0, -4.5, -5.5, -2.0, -3.5, -4.8, -5.5, -2.0, -3.5, -4.5, -5.0, -1.5,
       -3.5, -5.0, -5.5, -1.5, -3.5, -5.0, -6.0, -2.0, -4.0, -5.0, -5.5, -2.5]
p48 = [2.6, 1.5, 0.8, 1.9, 1.1, 0.3, 0.3, 0.9, 0.1, -0.3, -0.8, 1.1,
       0.2, -0.5, -1.0, 0.8, 0.3, 0.0, -0.3, 1.3, 0.8, 0.5, 0.3, 1.8,
       1.2, 0.8, 0.5, 2.2, 1.5, 1.2, 1.0, 2.8, 2.2, 1.8, 1.5, 3.5,
       3.0, 2.5, 2.2, 4.5, 4.0, 4.0, 4.5, 6.0, 6.5, 7.0, 7.5, 9.0,
       10.0, 10.5, 11.3, 11.0, 10.5, 10.0, 9.0, 10.0, 10.5, 11.0, 11.0, 11.5]
p49 = [2.3, 1.2, 0.6, 1.7, 0.9, 0.1, -0.1, 0.5, -0.5, -1.1, -1.7, 0.3,
       -0.9, -2.0, -3.0, -1.2, -2.2, -3.2, -4.0, -1.6, -2.8, -3.8, -4.6, -2.2,
       -3.4, -4.5, -5.3, -2.5, -4.0, -5.3, -6.0, -3.0, -4.6, -6.0, -6.8, -3.4,
       -5.0, -6.8, -7.5, -3.8, -5.6, -7.2, -8.0, -4.2, -6.2, -8.0, -9.5, -4.8,
       -7.0, -9.0, -10.0, -5.0, -7.5, -9.5, -10.0, -5.5, -8.0, -9.5, -10.0, -4.5]
p50 = [2.5, 1.4, 0.8, 1.9, 1.0, 0.3, 0.2, 0.8, -0.2, -0.7, -1.2, 0.7,
       -0.3, -1.2, -2.0, -0.4, -1.3, -2.1, -2.7, -0.5, -1.5, -2.3, -3.0, -0.8,
       -1.6, -2.4, -3.0, -0.5, -1.6, -2.6, -3.2, -0.5, -1.8, -3.0, -3.5, -0.5,
       -2.0, -3.2, -3.8, -1.0, -2.5, -3.5, -4.0, -0.5, -2.0, -3.0, -3.5, 0.0,
       -1.5, -2.5, -3.0, 0.5, -1.0, -2.0, -2.5, 1.0, -0.5, -1.5, -2.0, 2.0]

members = [p01, p02, p03, p04, p05, p06, p07, p08, p09, p10,
           p11, p12, p13, p14, p15, p16, p17, p18, p19, p20,
           p21, p22, p23, p24, p25, p26, p27, p28, p29, p30,
           p31, p32, p33, p34, p35, p36, p37, p38, p39, p40,
           p41, p42, p43, p44, p45, p46, p47, p48, p49, p50]
member_names = ["P%02d" % (k + 1) for k in range(len(members))]

# the member colours repeat every 20 runs: blue -> cyan -> green -> yellow -> red
palette = ["#1030c8", "#1058c8", "#1070c0", "#1094c8", "#10b0c0",
           "#10aa8c", "#10aa5c", "#10a83c", "#18b42a", "#18c418",
           "#c8c000", "#c8a800", "#c09c00", "#c08c00", "#c07800",
           "#b46400", "#c05a14", "#b44822", "#a83020", "#901818"]

for name, vals in zip(member_names, members):
    if len(vals) != len(times):
        raise SystemExit("%s has %d values" % (name, len(vals)))

fig = plt.figure(figsize=(12, 12), dpi=100, facecolor="black")
ax = fig.add_axes([0.1225, 0.3125, 0.8608, 0.5692])
ax.set_facecolor("black")

for k, vals in enumerate(members):
    ax.plot(times, vals, color=palette[k % 20], lw=1.1, zorder=2)

# zero line sits over the members
ax.axhline(0, color="#c8c8c8", lw=3.2, zorder=3)
ax.axhline(0, color="#808080", lw=1.0, ls=(0, (6, 4)), zorder=3.1)

ax.plot(times, avg, color="white", lw=4.3, zorder=5)
ax.plot(times, oper, color="#00dc00", lw=5.0, zorder=6)

ax.set_ylim(-20, 15)
ax.set_yticks(range(-20, 16, 5))
ax.set_xlim(pd.Timestamp("2026-01-01 15:45"), pd.Timestamp("2026-01-16 17:40"))
ax.set_xticks(tick_days)
ax.xaxis.set_major_formatter(
    plt.FuncFormatter(lambda v, p: "%d. Jan" % mdates.num2date(v).day))

ax.grid(True, color="#808080", lw=1.0, ls=(0, (6, 4)), zorder=0)
ax.set_axisbelow(True)
for s in ax.spines.values():
    s.set_color("#c8c8c8")
    s.set_linewidth(2.3)
    s.set_zorder(7)

ax.tick_params(axis="x", colors="#c0d0e0", length=10, width=1.0,
               labelcolor="white", labelsize=15, pad=5)
ax.tick_params(axis="y", length=0, labelcolor="white", labelsize=15, pad=23)

ax.set_xlabel(xlabel, color="white", fontsize=16.5, labelpad=9)
ax.set_ylabel(ylabel, color="white", fontsize=16.5, labelpad=14)

fig.text(0.5, 1 - 30 / 1200, title, color="white", fontsize=25,
         ha="center", va="center")
fig.text(0.5, 1 - 92 / 1200, subtitle, color="white", fontsize=16.5,
         ha="center", va="center")
fig.text(1 - 20 / 1200, 1 - 1178 / 1200, credit, color="white", fontsize=23,
         ha="right", va="center")

# legend, row-major, 8 per row
labels = member_names + ["AVG", "OPER"]
styles = [(palette[k % 20], 1.6) for k in range(len(members))]
styles += [("white", 5.0), ("#00dc00", 5.0)]
for k, (lab, (col, lw)) in enumerate(zip(labels, styles)):
    r, c = divmod(k, 8)
    y = 1 - (966 + 29.8 * r) / 1200
    x0 = (110 + 128 * c + 4 * (lab == "OPER")) / 1200
    fig.add_artist(Line2D([x0, x0 + 30 / 1200], [y, y], color=col, lw=lw,
                          solid_capstyle="round" if lw > 2 else "butt"))
    fig.text(x0 + 42 / 1200, y, lab, color="white", fontsize=15.5,
             fontweight="bold", va="center", ha="left")

fig.savefig("out.png", dpi=100, facecolor="black")
